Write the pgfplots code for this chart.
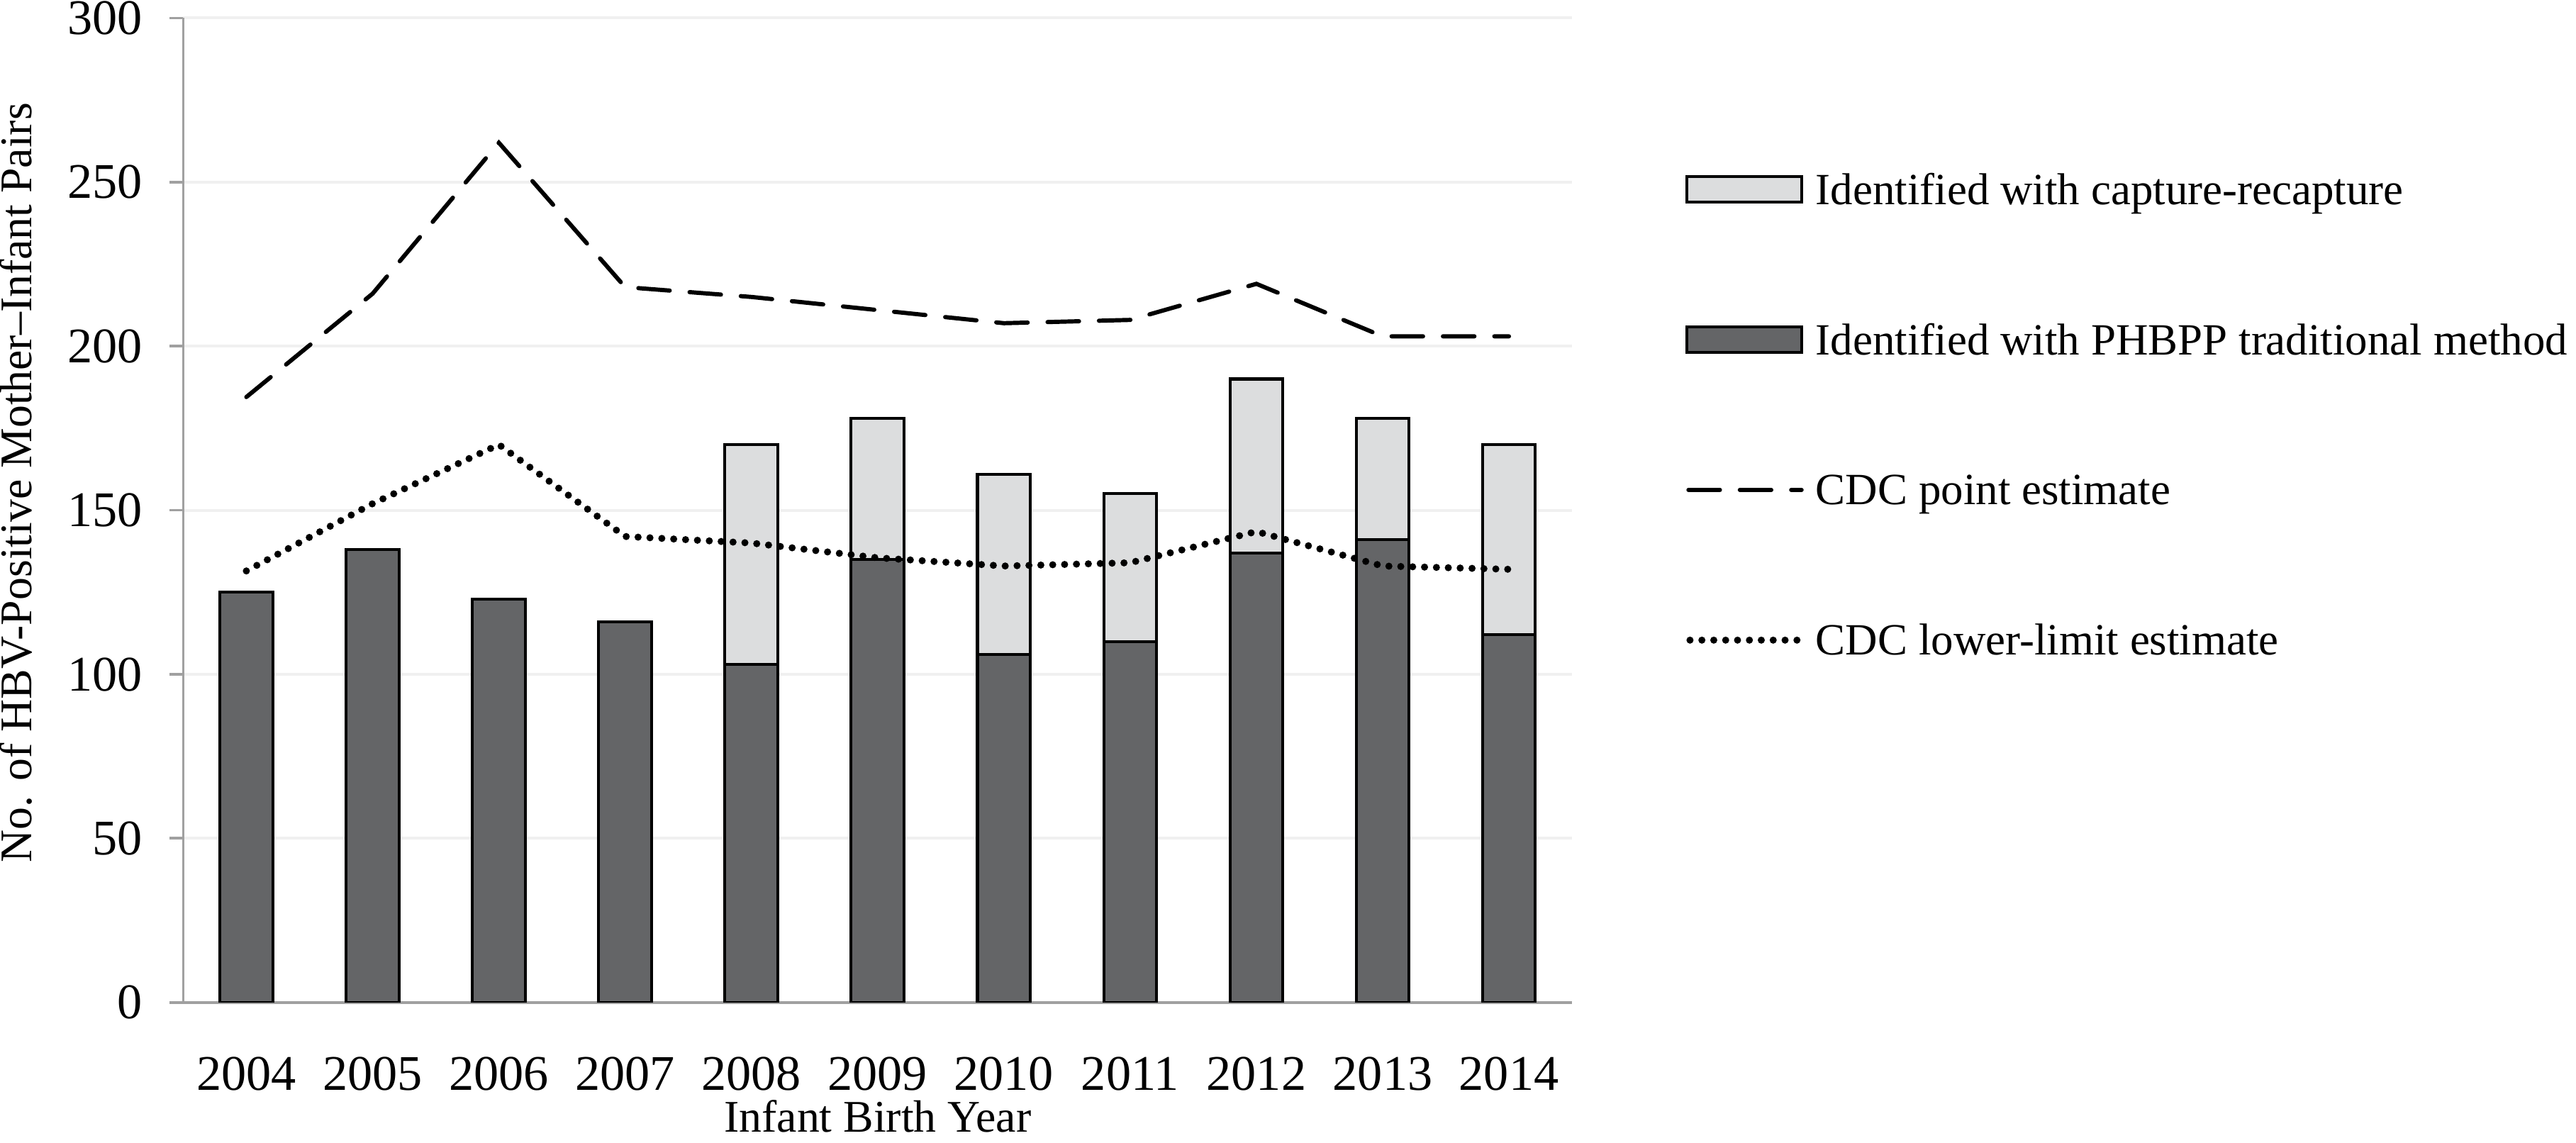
\documentclass[border=0pt]{standalone}
\usepackage{pgfplots}
\pgfplotsset{compat=1.18}
\usepackage{fontspec}
\setmainfont{Liberation Serif}
\definecolor{darkbar}{HTML}{646567}
\definecolor{lightbar}{HTML}{DCDDDE}
\definecolor{gridc}{HTML}{F0F0F0}
\definecolor{axisc}{HTML}{A0A0A0}
\pgfplotsset{
  barlegend/.style={legend image code/.code={\draw[##1] (0pt,-3.3pt) rectangle (30pt,3.3pt);}},
  linelegend/.style={legend image code/.code={\draw[##1] (0.5pt,0pt) -- (30pt,0pt);}},
  dotlegend/.style={legend image code/.code={\draw[##1] (0.9pt,0pt) -- (30pt,0pt);}},
}
\begin{document}
\begin{tikzpicture}
\begin{axis}[
  scale only axis, width=362.3pt, height=256.8pt,
  xmin=-0.5, xmax=10.5, ymin=0, ymax=300,
  axis x line*=bottom, axis y line*=left,
  axis line style={axisc, line width=0.7pt},
  xtick={0,...,10},
  xticklabels={2004,2005,2006,2007,2008,2009,2010,2011,2012,2013,2014},
  ytick={0,50,...,300},
  ymajorgrids, grid style={gridc, line width=0.75pt},
  tick align=outside, major tick length=3.6pt,
  xtick style={draw=none},
  ytick style={axisc, line width=0.7pt},
  /pgf/number format/assume math mode=true,
  tick label style={font=\fontsize{13}{15}\selectfont},
  yticklabel style={anchor=east, inner sep=0pt, xshift=-6.9pt},
  xticklabel style={anchor=north, inner sep=0pt, yshift=-10.5pt},
  label style={font=\fontsize{11.8}{14}\selectfont},
  xlabel={Infant Birth Year},
  xlabel style={at={(axis description cs:0.5,0)}, anchor=base, yshift=-33.8pt},
  ylabel={No. of HBV-Positive Mother\textendash Infant Pairs},
  ylabel style={at={(axis description cs:-0.109,0.528)}, anchor=base},
  legend cell align=left,
  legend style={draw=none, fill=none, at={(axis description cs:1.0814,0.8435)}, anchor=north west,
    inner sep=0pt, outer sep=0pt, row sep=30.2pt,
    nodes={inner sep=0pt, text height=8.4pt, text depth=0.6pt, font=\fontsize{11.65}{14}\selectfont},
    /tikz/every odd column/.append style={column sep=2.8pt}},
]
\addplot[ybar, bar width=13.8pt, bar shift=0pt, fill=lightbar, draw=black, line width=0.75pt, barlegend]
  coordinates {(0,125)(1,138)(2,123)(3,116)(4,170)(5,178)(6,161)(7,155)(8,190)(9,178)(10,170)};
\addlegendentry{Identified with capture-recapture}
\addplot[ybar, bar width=13.8pt, bar shift=0pt, fill=darkbar, draw=black, line width=0.75pt, barlegend]
  coordinates {(0,125)(1,138)(2,123)(3,116)(4,103)(5,135)(6,106)(7,110)(8,137)(9,141)(10,112)};
\addlegendentry{Identified with PHBPP traditional method}
\addplot[black, line width=1.1pt, line cap=round, dash pattern=on 8.2pt off 5.2pt, linelegend]
  coordinates {(0,184.5)(1,216)(2,262)(3,218)(4,215)(5,211)(6,207)(7,208)(8,219)(9,203)(10,203)};
\addlegendentry{CDC point estimate}
\addplot[black, line width=1.85pt, line cap=round, dash pattern=on 0pt off 3.1pt, dotlegend]
  coordinates {(0,131.5)(1,152)(2,170)(3,142)(4,140)(5,135.5)(6,133)(7,134)(8,143.5)(9,133)(10,132)};
\addlegendentry{CDC lower-limit estimate}
\end{axis}
\pgfresetboundingbox
\path[use as bounding box] (-47.8pt,-36.5pt) rectangle (624.2pt,261.5pt);
\end{tikzpicture}
\end{document}
